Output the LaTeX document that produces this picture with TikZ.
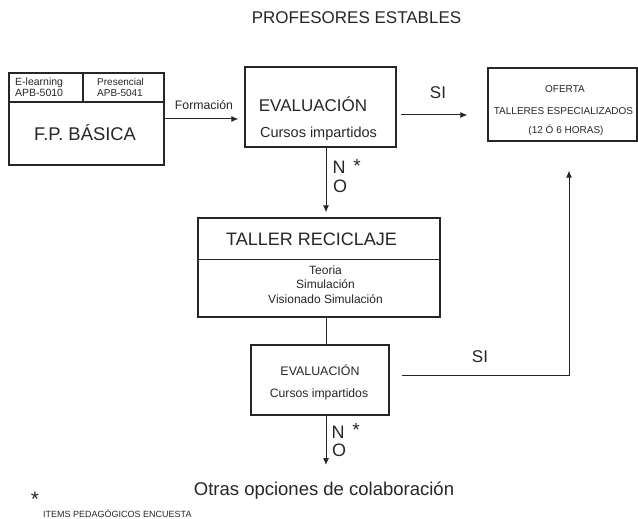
\documentclass[tikz,border=0pt]{standalone}
\usepackage{fontspec}
\setmainfont{Liberation Sans}
\usepackage{xcolor}
\usetikzlibrary{arrows.meta, positioning}
\newcommand{\fsz}[2]{\fontsize{#1}{#2}\selectfont}

\begin{document}
\begin{tikzpicture}[x=1pt,y=-1pt,
  box/.style={draw=black!85, line width=1.2pt, inner sep=0pt},
  txt/.style={inner sep=0pt, anchor=base, text=black!85},
  arr/.style={draw=black!85, line width=1pt, -{Latex[length=7pt,width=6pt]}},
  lin/.style={draw=black!85, line width=1pt}]
\useasboundingbox (0,0) rectangle (638,519);
\node[txt, font=\fsz{17}{20}] (titulo) at (356.5,24) {PROFESORES ESTABLES};
\node[box, minimum width=155pt, minimum height=92pt] (fpbasica) at (86.5,119) {};
\node[box, minimum width=74pt, minimum height=29pt, anchor=north west] (elearn) at (fpbasica.north west) {};
\node[box, minimum width=81pt, minimum height=29pt, anchor=north east] (presencial) at (fpbasica.north east) {};
\node[txt, anchor=base west, align=left, font=\fsz{10.5}{11}] (elearntxt) at (15,97) {E-learning\\APB-5010};
\node[txt, anchor=base west, align=left, font=\fsz{10}{11}] (presencialtxt) at (97,96) {Presencial\\APB-5041};
\node[txt, font=\fsz{18.4}{20}] (fptxt) at (85,141) {F.P. BÁSICA};
\node[box, minimum width=151pt, minimum height=80pt] (eval) at (320.5,107) {};
\node[txt, font=\fsz{17}{20}] (evaltit) at (313,111) {EVALUACIÓN};
\node[txt, font=\fsz{14.5}{16}] (evalsub) at (318.5,138) {Cursos impartidos};
\node[box, minimum width=149pt, minimum height=73pt] (oferta) at (562.5,104.5) {};
\node[txt, font=\fsz{10}{11}] (ofertatit) at (565,93) {OFERTA};
\node[txt, font=\fsz{10}{11}] (ofertatall) at (563.5,114) {TALLERES ESPECIALIZADOS};
\node[txt, font=\fsz{10}{11}] (ofertahoras) at (566,134) {(12 Ó 6 HORAS)};
\node[box, minimum width=242pt, minimum height=99pt] (taller) at (319,267.5) {};
\draw[lin] (taller.west |- 0,259) -- (taller.east |- 0,259);
\node[txt, font=\fsz{18}{20}] (tallertit) at (311.5,245) {TALLER RECICLAJE};
\node[txt, font=\fsz{12}{14}] (teoria) at (325.5,274) {Teoria};
\node[txt, font=\fsz{12}{14}] (simul) at (325.5,288) {Simulación};
\node[txt, font=\fsz{12}{14}] (visionado) at (325.5,303) {Visionado Simulación};
\node[box, minimum width=138pt, minimum height=70pt] (evaldos) at (320,380) {};
\node[txt, font=\fsz{12.4}{14}] (evaldostit) at (320,375) {EVALUACIÓN};
\node[txt, font=\fsz{12.2}{14}] (evaldossub) at (319,397) {Cursos impartidos};
\node[txt, font=\fsz{18.5}{20}] (otras) at (324,495) {Otras opciones de colaboración};
\node[txt, font=\fsz{12.3}{14}] (formacion) at (204,110) {Formación};
\node[txt, font=\fsz{17}{20}] (siuno) at (438,99) {SI};
\node[txt, font=\fsz{17}{20}] (sidos) at (480,362) {SI};
\node[txt, font=\fsz{18}{20}] (nouno) at (339,173) {N};
\node[txt, font=\fsz{18}{20}] (ouno) at (340,193) {O};
\node[txt, font=\fsz{19}{20}] (stuno) at (357,172) {*};
\node[txt, font=\fsz{18}{20}] (nodos) at (338,438) {N};
\node[txt, font=\fsz{18}{20}] (odos) at (339,456) {O};
\node[txt, font=\fsz{19}{20}] (stdos) at (356,436) {*};
\node[txt, font=\fsz{21}{22}] (stpie) at (35,506) {*};
\node[txt, anchor=base west, font=\fsz{9}{10}] (items) at (43,517) {ITEMS PEDAGÓGICOS ENCUESTA};
\coordinate (mid) at (326,0);
\coordinate (siuna) at (401,115);
\coordinate (sidosa) at (402,375);
\coordinate (esq) at (569,375);
\coordinate (fin) at (326,465);
\draw[arr, shorten >=6pt] (fpbasica.east) -- (fpbasica.east -| eval.west);
\draw[arr, shorten >=20pt] (siuna) -- (siuna -| oferta.west);
\draw[arr, shorten >=5pt] (mid |- eval.south) -- (mid |- taller.north);
\draw[lin] (mid |- taller.south) -- (mid |- evaldos.north);
\draw[arr] (mid |- evaldos.south) -- (fin);
\draw[arr, shorten >=29pt] (sidosa) -- (esq) -- (esq |- oferta.south);
\end{tikzpicture}
\end{document}
